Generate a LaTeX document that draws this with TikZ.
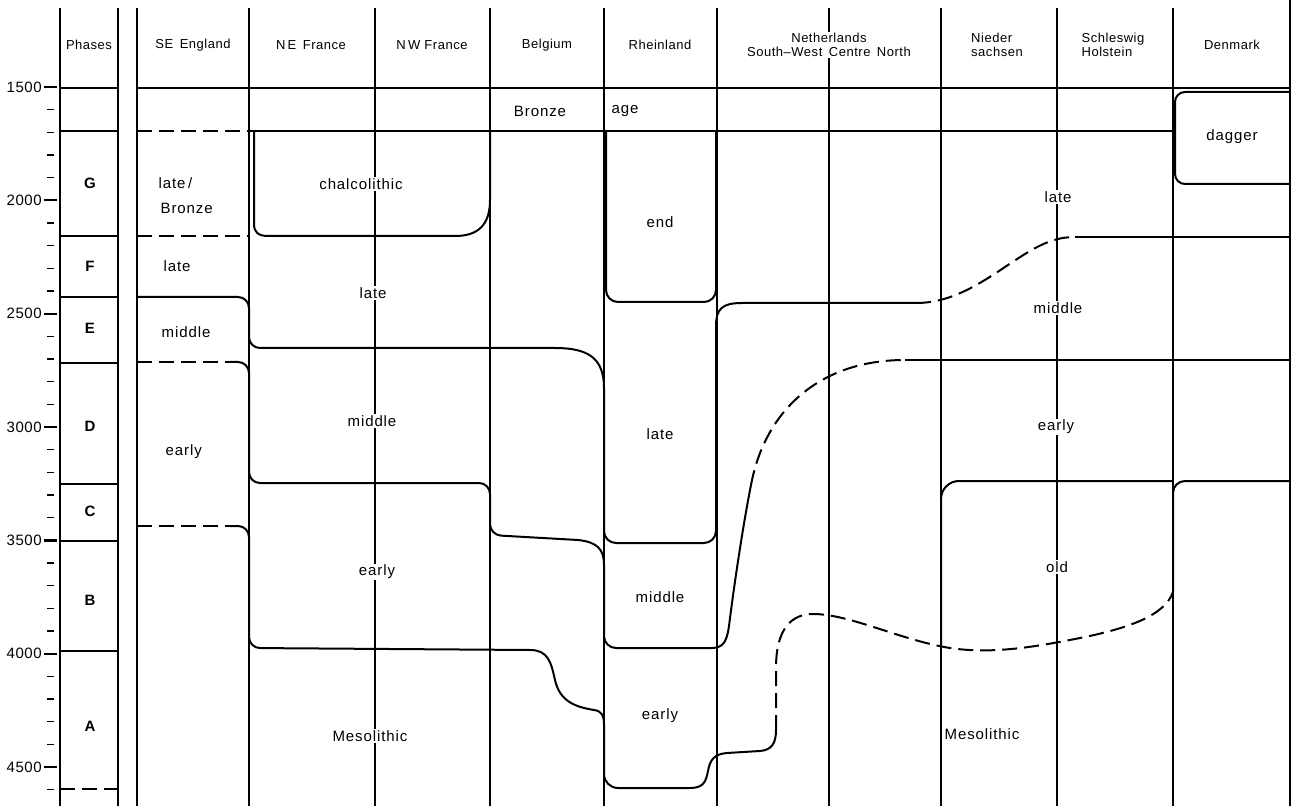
\documentclass[tikz,border=0pt]{standalone}
\usepackage{fontspec}
\setmainfont{Liberation Sans}
\newfontfamily\headfont{Liberation Sans}[LetterSpace=4]
\newfontfamily\bodyfont{Liberation Sans}[LetterSpace=6]
\usetikzlibrary{positioning}

\begin{document}
\begin{tikzpicture}[x=1pt,y=-1pt,
  col/.style={line width=1.1pt},
  bnd/.style={line width=2pt,line join=round},
  dsh/.style={line width=2pt,dash pattern=on 15pt off 7pt},
  hd/.style={font=\fontsize{13}{14}\selectfont\headfont,inner sep=1.5pt},
  lbl/.style={font=\fontsize{15}{16}\selectfont\bodyfont,inner sep=1.5pt},
  gap/.style={lbl,fill=white},
  phase/.style={font=\fontsize{15}{16}\selectfont\bfseries},
  yr/.style={font=\fontsize{15}{16}\selectfont\headfont,anchor=east,inner sep=1pt}]
\useasboundingbox (0,0) rectangle (1294,810);

% column lines
\foreach \cx in {60,118,137,249,375,490,604,717,829,941,1057,1173}
  \draw[col] (\cx,8) -- (\cx,806);
\draw[col] (1290,0) -- (1290,806);

% time axis
\foreach \yr in {1600,1700,...,4600} {
  \pgfmathsetmacro\ty{87+(\yr-1500)*0.2267}
  \draw[line width=1.4pt] (47,\ty) -- (54,\ty);
}
\foreach \yr in {1500,2000,...,4500} {
  \pgfmathsetmacro\ty{87+(\yr-1500)*0.2267}
  \draw[line width=2.2pt] (44,\ty) -- (57,\ty);
  \node[yr] (y\yr) at (43,\ty) {\yr};
}

% phases column
\foreach \py in {88,131,236,297,363,484,541,651}
  \draw[bnd] (60,\py) -- (118,\py);
\draw[dsh] (60,789) -- (118,789);
\node[phase] (pG) at (90,183) {G};
\node[phase] (pF) at (90,266) {F};
\node[phase] (pE) at (90,328) {E};
\node[phase] (pD) at (90,426) {D};
\node[phase] (pC) at (90,511) {C};
\node[phase] (pB) at (90,600) {B};
\node[phase] (pA) at (90,726) {A};

% header
\node[hd] (hph) at (89,45) {Phases};
\node[hd] (hse) at (193,45) {SE\enspace England};
\node[hd] (hne) at (311,45) {N\,E\enspace France};
\node[hd] (hnw) at (432,45) {N\,W France};
\node[hd] (hbe) at (547,45) {Belgium};
\node[hd] (hrh) at (660,45) {Rheinland};
\node[hd,fill=white,align=center] (hnl) at (829,45) {Netherlands\\South–West\enspace Centre\enspace North};
\node[hd,align=left] (hns) at (997,45) {Nieder\\sachsen};
\node[hd,align=left] (hsh) at (1113,45) {Schleswig\\Holstein};
\node[hd] (hdk) at (1232,45) {Denmark};

% bronze age band
\draw[bnd] (137,88) -- (1290,88);
\draw[dsh] (137,131) -- (249,131);
\draw[bnd] (249,131) -- (1173,131);
\node[lbl] (bronze) at (540,111) {Bronze};
\node[lbl,anchor=west] (age) at (610,111) {age};
\draw[bnd,rounded corners=10] (1290,92) -- (1175,92) -- (1175,184) -- (1290,184);
\node[lbl] (dagger) at (1232,137) {dagger};

% chalcolithic and Rheinland end
\draw[bnd] (254,131) -- (254,224) .. controls (254,232) and (258,236) .. (268,236)
  -- (455,236) .. controls (478,236) and (490,225) .. (490,200) -- (490,131);
\draw[bnd,rounded corners=12] (606,131) -- (606,302) -- (716,302) -- (716,131);

% late / middle
\draw[dsh] (137,236) -- (249,236);
\draw[bnd,rounded corners=11] (137,297) -- (249,297) -- (249,348) -- (555,348);
\draw[bnd] (555,348) .. controls (588,348) and (604,358) .. (604,388);
\draw[bnd,rounded corners=12] (604,388) -- (604,543) -- (716,543) -- (716,326);
\draw[bnd] (716,326) .. controls (716,309) and (722,303) .. (742,303) -- (916,303);
\draw[dsh] (916,303) .. controls (950,303) and (978,285) .. (1005,267)
  .. controls (1032,249) and (1050,237) .. (1075,237);
\draw[bnd] (1075,237) -- (1290,237);

% middle / early
\draw[dsh] (137,362) -- (230,362);
\draw[bnd,rounded corners=11] (230,362) -- (249,362) -- (249,483) -- (490,483)
  -- (490,535) -- (578,540);
\draw[bnd] (578,540) .. controls (596,542) and (604,548) .. (604,565);
\draw[bnd,rounded corners=12] (604,565) -- (604,648) -- (712,648);
\draw[bnd] (712,648) .. controls (724,648) and (727,640) .. (729,626)
  .. controls (735,578) and (744,520) .. (751,485);
\draw[dsh] (751,485) .. controls (765,410) and (820,360) .. (905,360);
\draw[bnd] (905,360) -- (1290,360);

% early / Mesolithic
\draw[dsh] (137,526) -- (230,526);
\draw[bnd,rounded corners=11] (230,526) -- (249,526) -- (249,648) -- (530,650);
\draw[bnd] (530,650) .. controls (548,650) and (551,662) .. (555,680)
  .. controls (560,702) and (576,707) .. (594,710)
  .. controls (602,711) and (604,716) .. (604,724);
\draw[bnd,rounded corners=14] (604,724) -- (604,788) -- (690,788);
\draw[bnd] (690,788) .. controls (704,788) and (706,781) .. (708,771)
  .. controls (710,759) and (715,754) .. (727,753) -- (760,751)
  .. controls (772,750) and (776,743) .. (776,730);
\draw[dsh] (776,730) -- (776,668) .. controls (776,628) and (792,614) .. (813,614)
  .. controls (850,614) and (900,640) .. (950,648)
  .. controls (990,654) and (1030,648) .. (1080,638)
  .. controls (1130,628) and (1165,615) .. (1173,592);
\draw[bnd,rounded corners=12] (1173,592) -- (1173,481) -- (1290,481);
\draw[bnd,rounded corners=18] (941,647) -- (941,481) -- (1173,481);

% SE England
\node[lbl,anchor=west] (se1) at (157,183) {late\,/};
\node[lbl,anchor=west] (se2) at (159,208) {Bronze};
\node[lbl,anchor=west] (se3) at (162,266) {late};
\node[lbl,anchor=west] (se4) at (160,332) {middle};
\node[lbl,anchor=west] (se5) at (164,452) {early};

% NE / NW France
\node[gap] (fr1) at (361,184) {chalcolithic};
\node[gap] (fr2) at (373,293) {late};
\node[gap] (fr3) at (372,421) {middle};
\node[gap] (fr4) at (377,572) {early};
\node[gap] (fr5) at (370,736) {Mesolithic};

% Rheinland
\node[lbl] (rh1) at (660,222) {end};
\node[lbl] (rh2) at (660,434) {late};
\node[lbl] (rh3) at (660,597) {middle};
\node[lbl] (rh4) at (660,716) {early};

% Niedersachsen / Schleswig-Holstein
\node[gap] (sh1) at (1058,197) {late};
\node[gap] (sh2) at (1058,308) {middle};
\node[gap] (sh3) at (1056,427) {early};
\node[gap] (sh4) at (1057,567) {old};
\node[lbl,anchor=west] (ns1) at (943,734) {Mesolithic};
\end{tikzpicture}
\end{document}
